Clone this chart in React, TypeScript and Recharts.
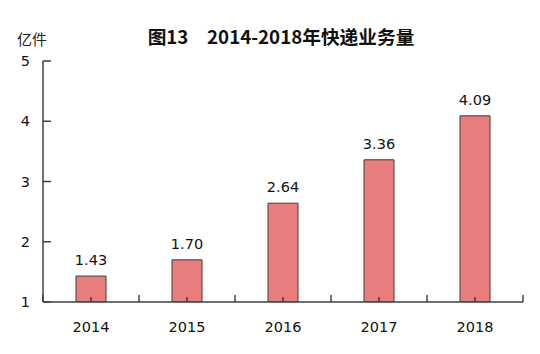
import React from "react";
import { BarChart, Bar, XAxis, YAxis, LabelList } from "recharts";

const years = ["2014", "2015", "2016", "2017", "2018"];
const volumes = [1.43, 1.7, 2.64, 3.36, 4.09];
const yTicks = [1, 2, 3, 4, 5];

const data = years.map((y, i) => ({ year: y, value: volumes[i] }));

const NUM_FONT = "'DejaVu Sans', Verdana, sans-serif";
const CJK_FONT = "'Noto Sans CJK SC', sans-serif";
const AXIS = "#404040";

const PLOT_LEFT = 43;
const PLOT_RIGHT = 523;
const BAND = (PLOT_RIGHT - PLOT_LEFT) / years.length;

const XTick = (props: any) => {
  const { x, y, payload, index } = props;
  const isLast = index === years.length - 1;
  return (
    <g>
      <line x1={x} x2={x} y1={y} y2={y - 5} stroke={AXIS} strokeWidth={1.5} />
      <line x1={x - BAND / 2} x2={x - BAND / 2} y1={y} y2={y - 7} stroke={AXIS} strokeWidth={1.5} />
      {isLast && (
        <line x1={x + BAND / 2} x2={x + BAND / 2} y1={y} y2={y - 7} stroke={AXIS} strokeWidth={1.5} />
      )}
      <text x={x} y={y + 30} textAnchor="middle" fontFamily={NUM_FONT} fontSize={14.5} fill="#111">
        {payload.value}
      </text>
    </g>
  );
};

const YTick = (props: any) => {
  const { x, y, payload } = props;
  return (
    <g>
      <line x1={x + 13} x2={x + 21} y1={y} y2={y} stroke={AXIS} strokeWidth={1.5} />
      <text x={x} y={y + 5} textAnchor="end" fontFamily={NUM_FONT} fontSize={14.5} fill="#111">
        {payload.value}
      </text>
    </g>
  );
};

export default function App() {
  return (
    <div style={{ position: "absolute", left: 0, top: 0, width: 540, height: 354, background: "#fff" }}>
      <BarChart
        width={540}
        height={354}
        data={data}
        margin={{ top: 61, right: 17, bottom: 0, left: 0 }}
      >
        <XAxis
          dataKey="year"
          axisLine={{ stroke: AXIS, strokeWidth: 1.5 }}
          tickLine={false}
          tickSize={0}
          tickMargin={0}
          height={52}
          tick={<XTick />}
          interval={0}
        />
        <YAxis
          domain={[1, 5]}
          ticks={yTicks}
          width={43}
          axisLine={{ stroke: AXIS, strokeWidth: 1.5 }}
          tickLine={false}
          tickSize={0}
          tickMargin={13}
          tick={<YTick />}
          allowDataOverflow
        />
        <Bar dataKey="value" fill="#E87E7E" stroke="#3C3C3C" strokeWidth={1} barSize={30} isAnimationActive={false}>
          <LabelList
            dataKey="value"
            position="top"
            offset={11}
            formatter={(v: any) => Number(v).toFixed(2)}
            style={{ fontFamily: NUM_FONT, fontSize: 14.5, fill: "#111" }}
          />
        </Bar>
        <text x={281} y={44} textAnchor="middle" fontFamily={CJK_FONT} fontWeight="bold" fontSize={18.7} fill="#111">
          图13　2014-2018年快递业务量
        </text>
        <text x={32} y={45} textAnchor="middle" fontFamily={CJK_FONT} fontSize={15} fill="#222">
          亿件
        </text>
      </BarChart>
    </div>
  );
}
